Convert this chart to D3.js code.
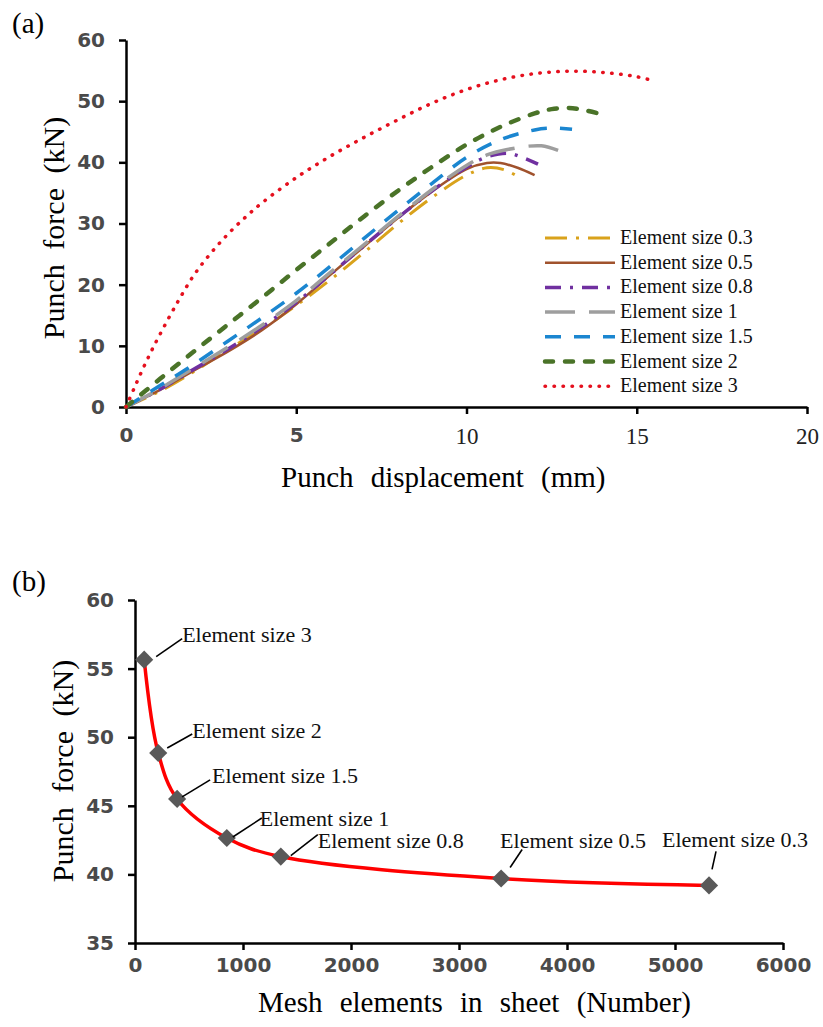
<!DOCTYPE html>
<html>
<head>
<meta charset="utf-8">
<script src="https://cdn.jsdelivr.net/npm/d3@7"></script>
<style>
body { margin: 0; background: #fff; }
text { font-family: "Liberation Serif", "Times New Roman", serif; }
</style>
</head>
<body>
<svg id="chart" width="823" height="1027"></svg>
<script>
// (a) punch force vs displacement, [mm, kN] for every element size
var size03 = [[0,0],[1,2.6],[2,5.8],[3,9.4],[4,12.8],[5,16.6],[6,20.8],[7,25.3],[8,30.0],[9,34.3],[10,37.9],[10.6,39.1],[11.1,38.8],[11.6,37.4]];
var size05 = [[0,0],[1,2.8],[2,6.0],[3,9.1],[4,12.6],[5,16.8],[6,21.6],[7,26.3],[8,31.0],[9,35.3],[10,38.9],[10.6,39.9],[11,39.9],[11.5,39.1],[12,37.9]];
var size08 = [[0,0],[1,2.9],[2,6.2],[3,9.5],[4,13.1],[5,17.1],[6,21.7],[7,26.4],[8,31.0],[9,35.4],[10,39.2],[10.6,40.9],[11.2,41.5],[11.6,40.9],[12.1,39.7]];
var size1 = [[0,0],[1,3.0],[2,6.4],[3,9.8],[4,13.4],[5,17.4],[6,22.0],[7,26.6],[8,31.2],[9,35.6],[10,39.5],[10.6,41.2],[11.2,42.1],[12.2,42.7],[12.8,41.7]];
var size15 = [[0,0],[1,3.5],[2,7.0],[3,10.8],[4,14.6],[5,18.6],[6,23.0],[7,27.6],[8,32.2],[9,36.6],[10,40.8],[11,43.7],[12,45.3],[12.5,45.6],[13.1,45.4]];
var size2 = [[0,0],[1,4.6],[2,9.1],[3,13.5],[4,17.9],[5,22.4],[6,26.8],[7,31.2],[8,35.4],[9,39.3],[10,42.9],[11,45.8],[12,48.0],[12.5,48.7],[13,48.9],[13.5,48.5],[14,47.8]];
var size3 = [[0,0],[0.25,3.2],[0.5,6.3],[0.75,9.2],[1,11.9],[1.5,17.0],[2,21.6],[2.5,25.2],[3,28.3],[3.5,31.0],[4,33.4],[5,37.5],[6,41.0],[7,44.1],[8,47.0],[9,49.7],[10,51.9],[11,53.5],[12,54.5],[13,54.9],[14,54.7],[15,54.0],[15.5,53.3]];
var legendLabels = ["Element size 0.3","Element size 0.5","Element size 0.8","Element size 1","Element size 1.5","Element size 2","Element size 3"];
var xTicksA = [0,5,10,15,20];
var yTicksA = [0,10,20,30,40,50,60];

// (b) peak force vs number of elements
var meshElements = [85,215,390,850,1350,3390,5315];
var peakForce = [55.65,48.85,45.5,42.65,41.3,39.7,39.2];
var pointLabels = ["Element size 3","Element size 2","Element size 1.5","Element size 1","Element size 0.8","Element size 0.5","Element size 0.3"];
var xTicksB = [0,1000,2000,3000,4000,5000,6000];
var yTicksB = [35,40,45,50,55,60];

// line styles for (a)
var seriesColors = ["#D9A21B","#A0522D","#7030A0","#9E9E9E","#1B86D0","#4A7328","#E5101E"];
var seriesDash = ["22,9,3,9",null,"16,9,3,9","30,14","16,13","8,12","0.5,8.5"];
var seriesWidth = [3,2.6,3.5,3.5,3.5,4.5,3.5];
var seriesCap = ["butt","butt","butt","butt","butt","round","round"];
// label placement for (b): text start and leader end relative to marker
var labelPos = [[38,-18,12,-3,38,-21],[34,-15,9,-5,34,-19],[35,-16,5,-2,33,-19],[33,-12,6,-1,35,-20],[37,-9,10,-1,37,-22],[-1,-31,9,-11,21,-29],[-47,-38,3,-16,7,-34]];

var svg = d3.select("#chart");

function styleAxis(g) {
    g.select(".domain").attr("stroke", "#000").attr("stroke-width", 2.5);
    g.selectAll(".tick line").attr("stroke", "#000").attr("stroke-width", 2.5);
    g.selectAll(".tick text")
        .attr("fill", "#4a4a4a")
        .style("font-family", "'DejaVu Sans', sans-serif")
        .style("font-weight", "bold")
        .style("font-size", "20px");
}

// ---------- chart (a) ----------
var xa = d3.scaleLinear().domain([0, 20]).range([126, 807]);
var ya = d3.scaleLinear().domain([0, 60]).range([407, 40]);

var gxa = svg.append("g").attr("transform", "translate(0,407)")
    .call(d3.axisBottom(xa).tickValues(xTicksA).tickSize(7).tickSizeOuter(0).tickPadding(14));
styleAxis(gxa);
// the last three labels are set in a serif face in the original
gxa.selectAll(".tick text").filter(function (d) { return d >= 10; })
    .style("font-family", "'Liberation Serif', serif").style("font-weight", "normal")
    .style("font-size", "23px").attr("fill", "#222");

var gya = svg.append("g").attr("transform", "translate(126,0)")
    .call(d3.axisLeft(ya).tickValues(yTicksA).tickSize(7).tickSizeOuter(0).tickPadding(14));
styleAxis(gya);

var lineA = d3.line()
    .x(function (d) { return xa(d[0]); })
    .y(function (d) { return ya(d[1]); })
    .curve(d3.curveCatmullRom.alpha(0.5));

var allSeries = [size03, size05, size08, size1, size15, size2, size3];
allSeries.forEach(function (s, i) {
    svg.append("path")
        .attr("d", lineA(s))
        .attr("fill", "none")
        .attr("stroke", seriesColors[i])
        .attr("stroke-width", seriesWidth[i])
        .attr("stroke-dasharray", seriesDash[i])
        .attr("stroke-linecap", seriesCap[i]);
});

// legend
var legend = svg.append("g");
legendLabels.forEach(function (lab, i) {
    var ly = 238 + i * 24.7;
    legend.append("line")
        .attr("x1", 545).attr("x2", 615).attr("y1", ly).attr("y2", ly)
        .attr("stroke", seriesColors[i])
        .attr("stroke-width", seriesWidth[i])
        .attr("stroke-dasharray", seriesDash[i])
        .attr("stroke-linecap", seriesCap[i]);
    legend.append("text")
        .attr("x", 620).attr("y", ly + 6)
        .style("font-size", "20px")
        .attr("fill", "#111")
        .text(lab);
});

svg.append("text").attr("x", 12).attr("y", 33).style("font-size", "29px").text("(a)");
svg.append("text").attr("x", 281).attr("y", 487)
    .style("font-size", "29px").style("word-spacing", "10px")
    .text("Punch displacement (mm)");
svg.append("text").attr("transform", "translate(64,228) rotate(-90)")
    .attr("text-anchor", "middle")
    .style("font-size", "30px").style("word-spacing", "7px")
    .text("Punch force (kN)");

// ---------- chart (b) ----------
var xb = d3.scaleLinear().domain([0, 6000]).range([135, 783]);
var yb = d3.scaleLinear().domain([35, 60]).range([943, 600]);

var gxb = svg.append("g").attr("transform", "translate(0,943)")
    .call(d3.axisBottom(xb).tickValues(xTicksB).tickFormat(d3.format("d"))
        .tickSize(7).tickSizeOuter(0).tickPadding(8));
styleAxis(gxb);
var gyb = svg.append("g").attr("transform", "translate(135,0)")
    .call(d3.axisLeft(yb).tickValues(yTicksB).tickSize(7).tickSizeOuter(0).tickPadding(14));
styleAxis(gyb);

var pts = meshElements.map(function (m, i) { return [m, peakForce[i]]; });
var lineB = d3.line()
    .x(function (d) { return xb(d[0]); })
    .y(function (d) { return yb(d[1]); })
    .curve(d3.curveCatmullRom.alpha(0.5));

svg.append("path")
    .attr("d", lineB(pts))
    .attr("fill", "none")
    .attr("stroke", "#FF0000")
    .attr("stroke-width", 3.5);

var diamond = d3.symbol().type(d3.symbolSquare).size(165);
svg.selectAll(".mk").data(pts).enter().append("path")
    .attr("class", "mk")
    .attr("d", diamond)
    .attr("transform", function (d) { return "translate(" + xb(d[0]) + "," + yb(d[1]) + ") rotate(45)"; })
    .attr("fill", "#595959");

pts.forEach(function (d, i) {
    var px = xb(d[0]), py = yb(d[1]), p = labelPos[i];
    svg.append("line")
        .attr("x1", px + p[2]).attr("y1", py + p[3])
        .attr("x2", px + p[4]).attr("y2", py + p[5])
        .attr("stroke", "#000").attr("stroke-width", 1.6);
    svg.append("text")
        .attr("x", px + p[0]).attr("y", py + p[1])
        .style("font-size", "22px")
        .attr("fill", "#111")
        .text(pointLabels[i]);
});

svg.append("text").attr("x", 12).attr("y", 591).style("font-size", "29px").text("(b)");
svg.append("text").attr("x", 258).attr("y", 1012)
    .style("font-size", "29px").style("word-spacing", "10px")
    .text("Mesh elements in sheet (Number)");
svg.append("text").attr("transform", "translate(73,771) rotate(-90)")
    .attr("text-anchor", "middle")
    .style("font-size", "30px").style("word-spacing", "7px")
    .text("Punch force (kN)");
</script>
</body>
</html>
